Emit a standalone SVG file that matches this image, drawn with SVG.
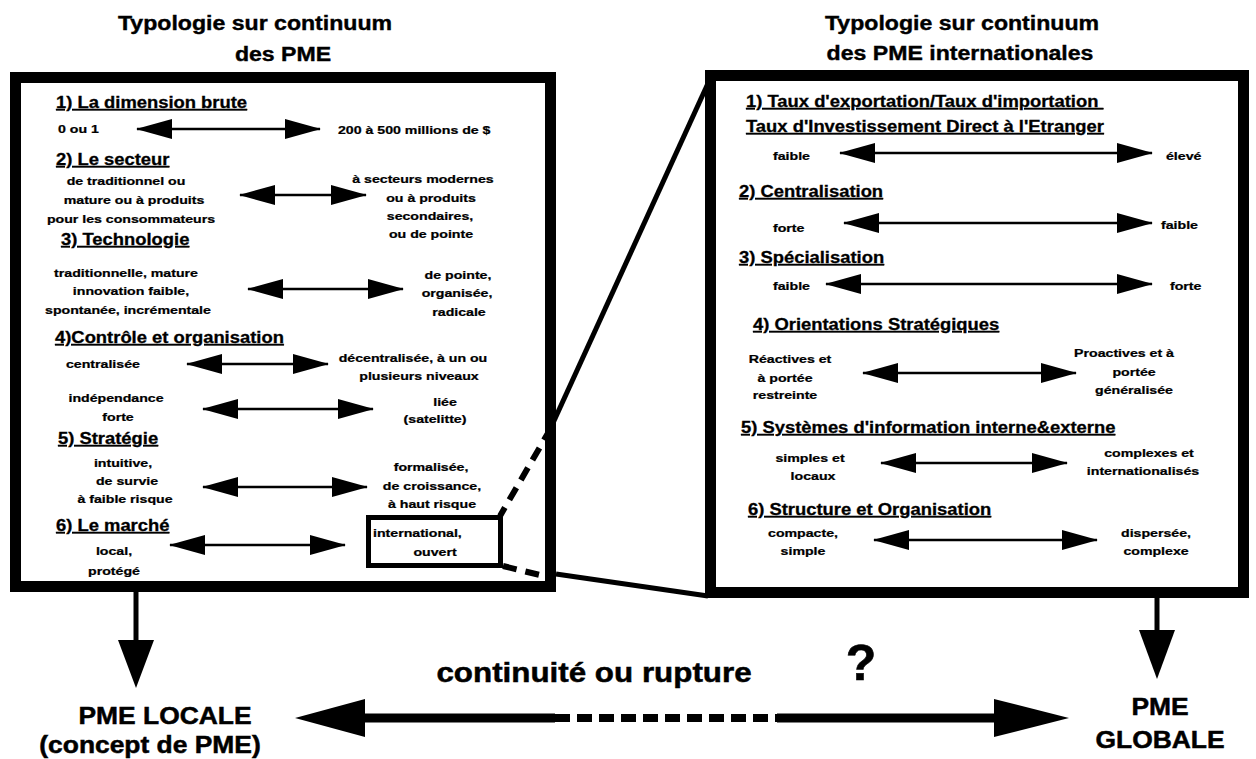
<svg xmlns="http://www.w3.org/2000/svg" width="1256" height="759" viewBox="0 0 1256 759">
<defs>
<style>
text{font-family:"Liberation Sans",Arial,Helvetica,sans-serif;font-weight:bold;fill:#000;stroke:#000;stroke-width:0.3}
.t{font-size:21px;text-anchor:middle;stroke-width:0.4}
.h{font-size:16px;text-decoration:underline}
.s{font-size:11.8px;stroke-width:0.25}
.m{text-anchor:middle}
.b{font-size:24px;text-anchor:middle;stroke-width:0.5}
.big{font-size:28px;text-anchor:middle;stroke-width:0.5}
.q{font-size:50px;text-anchor:middle;stroke-width:0.6}
.frame{fill:#fff;stroke:#000;stroke-width:11}
.arr{stroke:#000;stroke-width:2.5;marker-start:url(#ah);marker-end:url(#ah)}
</style>
<marker id="ah" markerUnits="userSpaceOnUse" markerWidth="36" markerHeight="20" viewBox="0 0 36 20" refX="35" refY="10" orient="auto-start-reverse"><path d="M0,0 L36,10 L0,20 z" fill="#000"/></marker>
</defs>
<rect width="1256" height="759" fill="#fff"/>

<g id="left-title">
<text class="t" transform="translate(255 30) scale(1.1 1)">Typologie sur continuum</text>
<text class="t" transform="translate(283 61) scale(1.1 1)">des PME</text>
</g>
<g id="right-title">
<text class="t" transform="translate(962 30) scale(1.1 1)">Typologie sur continuum</text>
<text class="t" transform="translate(960 60) scale(1.1 1)">des PME internationales</text>
</g>

<g id="left-box">
<rect class="frame" x="15.5" y="77.5" width="535" height="509"/>
<text class="h" transform="translate(56 108) scale(1.15 1)">1) La dimension brute</text>
<text class="s" transform="translate(58 133) scale(1.2 1)">0 ou 1</text>
<text class="s" transform="translate(338 134) scale(1.2 1)">200 à 500 millions de $</text>
<text class="h" transform="translate(56 165) scale(1.15 1)">2) Le secteur</text>
<text class="s m" transform="translate(126 185) scale(1.2 1)">de traditionnel ou</text>
<text class="s m" transform="translate(134 204) scale(1.2 1)">mature ou à produits</text>
<text class="s m" transform="translate(131 223) scale(1.2 1)">pour les consommateurs</text>
<text class="s m" transform="translate(423 183) scale(1.2 1)">à secteurs modernes</text>
<text class="s m" transform="translate(431 202) scale(1.2 1)">ou à produits</text>
<text class="s m" transform="translate(430 220) scale(1.2 1)">secondaires,</text>
<text class="s m" transform="translate(431 238) scale(1.2 1)">ou de pointe</text>
<text class="h" transform="translate(61 245) scale(1.15 1)">3) Technologie</text>
<text class="s m" transform="translate(126 277) scale(1.2 1)">traditionnelle, mature</text>
<text class="s m" transform="translate(131 295) scale(1.2 1)">innovation faible,</text>
<text class="s m" transform="translate(128 314) scale(1.2 1)">spontanée, incrémentale</text>
<text class="s m" transform="translate(458 279) scale(1.2 1)">de pointe,</text>
<text class="s m" transform="translate(457 297) scale(1.2 1)">organisée,</text>
<text class="s m" transform="translate(459 316) scale(1.2 1)">radicale</text>
<text class="h" transform="translate(55 343) scale(1.15 1)">4)Contrôle et organisation</text>
<text class="s" transform="translate(66 368) scale(1.2 1)">centralisée</text>
<text class="s m" transform="translate(413 362) scale(1.2 1)">décentralisée, à un ou</text>
<text class="s m" transform="translate(419 380) scale(1.2 1)">plusieurs niveaux</text>
<text class="s m" transform="translate(116 402) scale(1.2 1)">indépendance</text>
<text class="s m" transform="translate(118 421) scale(1.2 1)">forte</text>
<text class="s m" transform="translate(445 406) scale(1.2 1)">liée</text>
<text class="s m" transform="translate(435 423) scale(1.2 1)">(satelitte)</text>
<text class="h" transform="translate(58 444) scale(1.15 1)">5) Stratégie</text>
<text class="s m" transform="translate(123 467) scale(1.2 1)">intuitive,</text>
<text class="s m" transform="translate(127 485) scale(1.2 1)">de survie</text>
<text class="s m" transform="translate(125 503) scale(1.2 1)">à faible risque</text>
<text class="s m" transform="translate(431 471) scale(1.2 1)">formalisée,</text>
<text class="s m" transform="translate(432 490) scale(1.2 1)">de croissance,</text>
<text class="s m" transform="translate(432 508) scale(1.2 1)">à haut risque</text>
<text class="h" transform="translate(56 531) scale(1.15 1)">6) Le marché</text>
<text class="s m" transform="translate(114 555) scale(1.2 1)">local,</text>
<text class="s m" transform="translate(114 575) scale(1.2 1)">protégé</text>
</g>

<g id="small-box">
<rect x="368.5" y="517.5" width="132" height="48" fill="none" stroke="#000" stroke-width="5"/>
<text class="s" transform="translate(373 537) scale(1.2 1)">international,</text>
<text class="s m" transform="translate(435 556) scale(1.2 1)">ouvert</text>
</g>

<g id="right-box">
<rect class="frame" x="710.5" y="75.5" width="533" height="517"/>
<text class="h" transform="translate(746 107) scale(1.15 1)">1) Taux d'exportation/Taux d'importation&#160;</text>
<text class="h" transform="translate(746 132) scale(1.15 1)">Taux d'Investissement Direct à l'Etranger</text>
<text class="s" transform="translate(773 160) scale(1.2 1)">faible</text>
<text class="s" transform="translate(1166 160) scale(1.2 1)">élevé</text>
<text class="h" transform="translate(739 197) scale(1.15 1)">2) Centralisation</text>
<text class="s" transform="translate(773 232) scale(1.2 1)">forte</text>
<text class="s" transform="translate(1161 229) scale(1.2 1)">faible</text>
<text class="h" transform="translate(739 263) scale(1.15 1)">3) Spécialisation</text>
<text class="s" transform="translate(773 290) scale(1.2 1)">faible</text>
<text class="s" transform="translate(1170 290) scale(1.2 1)">forte</text>
<text class="h" transform="translate(753 330) scale(1.15 1)">4) Orientations Stratégiques</text>
<text class="s m" transform="translate(790 363) scale(1.2 1)">Réactives et</text>
<text class="s m" transform="translate(785 382) scale(1.2 1)">à portée</text>
<text class="s m" transform="translate(785 399) scale(1.2 1)">restreinte</text>
<text class="s m" transform="translate(1124 357) scale(1.2 1)">Proactives et à</text>
<text class="s m" transform="translate(1134 376) scale(1.2 1)">portée</text>
<text class="s m" transform="translate(1134 394) scale(1.2 1)">généralisée</text>
<text class="h" transform="translate(741 433) scale(1.15 1)">5) Systèmes d'information interne&amp;externe</text>
<text class="s m" transform="translate(810 462) scale(1.2 1)">simples et</text>
<text class="s m" transform="translate(813 480) scale(1.2 1)">locaux</text>
<text class="s m" transform="translate(1149 457) scale(1.2 1)">complexes et</text>
<text class="s m" transform="translate(1143 475) scale(1.2 1)">internationalisés</text>
<text class="h" transform="translate(748 515) scale(1.15 1)">6) Structure et Organisation</text>
<text class="s m" transform="translate(803 537) scale(1.2 1)">compacte,</text>
<text class="s m" transform="translate(803 555) scale(1.2 1)">simple</text>
<text class="s m" transform="translate(1156 537) scale(1.2 1)">dispersée,</text>
<text class="s m" transform="translate(1156 555) scale(1.2 1)">complexe</text>
</g>

<g id="pme-locale">
<text class="b" transform="translate(165 724) scale(1.1 1)">PME LOCALE</text>
<text class="b" transform="translate(150 753) scale(1.1 1)">(concept de PME)</text>
</g>
<g id="pme-globale">
<text class="b" transform="translate(1160 715) scale(1.1 1)">PME</text>
<text class="b" transform="translate(1160 748) scale(1.1 1)">GLOBALE</text>
</g>
<g id="continuite-label">
<text class="big" transform="translate(594 682) scale(1.12 1)">continuité ou rupture</text>
</g>
<g id="question">
<text class="q" transform="translate(861 680)">?</text>
</g>

<g id="connectors">
<line class="arr" x1="137" y1="129" x2="320" y2="129"/>
<line class="arr" x1="240" y1="195" x2="366" y2="195"/>
<line class="arr" x1="248" y1="289" x2="403" y2="289"/>
<line class="arr" x1="187" y1="364" x2="328" y2="364"/>
<line class="arr" x1="203" y1="409" x2="373" y2="409"/>
<line class="arr" x1="203" y1="487" x2="367" y2="487"/>
<line class="arr" x1="170" y1="545" x2="345" y2="545"/>
<line class="arr" x1="840" y1="153" x2="1152" y2="153"/>
<line class="arr" x1="844" y1="223" x2="1152" y2="223"/>
<line class="arr" x1="826" y1="284" x2="1152" y2="284"/>
<line class="arr" x1="863" y1="373" x2="1076" y2="373"/>
<line class="arr" x1="881" y1="463" x2="1067" y2="463"/>
<line class="arr" x1="874" y1="540" x2="1097" y2="540"/>
<line x1="710" y1="79" x2="553" y2="423" stroke="#000" stroke-width="5"/>
<line x1="551" y1="428" x2="500" y2="516" stroke="#000" stroke-width="6" stroke-dasharray="14 9"/>
<line x1="503" y1="566" x2="548" y2="577" stroke="#000" stroke-width="6" stroke-dasharray="14 9"/>
<line x1="556" y1="574" x2="708" y2="596" stroke="#000" stroke-width="5"/>
<line x1="136" y1="592" x2="136" y2="645" stroke="#000" stroke-width="5"/>
<polygon points="118,640 154,640 136,688" fill="#000"/>
<line x1="1157" y1="598" x2="1157" y2="635" stroke="#000" stroke-width="5"/>
<polygon points="1139,630 1175,630 1157,679" fill="#000"/>
<polygon points="295,718 365,699 365,737" fill="#000"/>
<polygon points="1069,718 994,699 994,737" fill="#000"/>
<line x1="363" y1="718" x2="555" y2="718" stroke="#000" stroke-width="9"/>
<line x1="555" y1="718" x2="777" y2="718" stroke="#000" stroke-width="8" stroke-dasharray="15 7"/>
<line x1="777" y1="718" x2="996" y2="718" stroke="#000" stroke-width="9"/>
</g>
</svg>
